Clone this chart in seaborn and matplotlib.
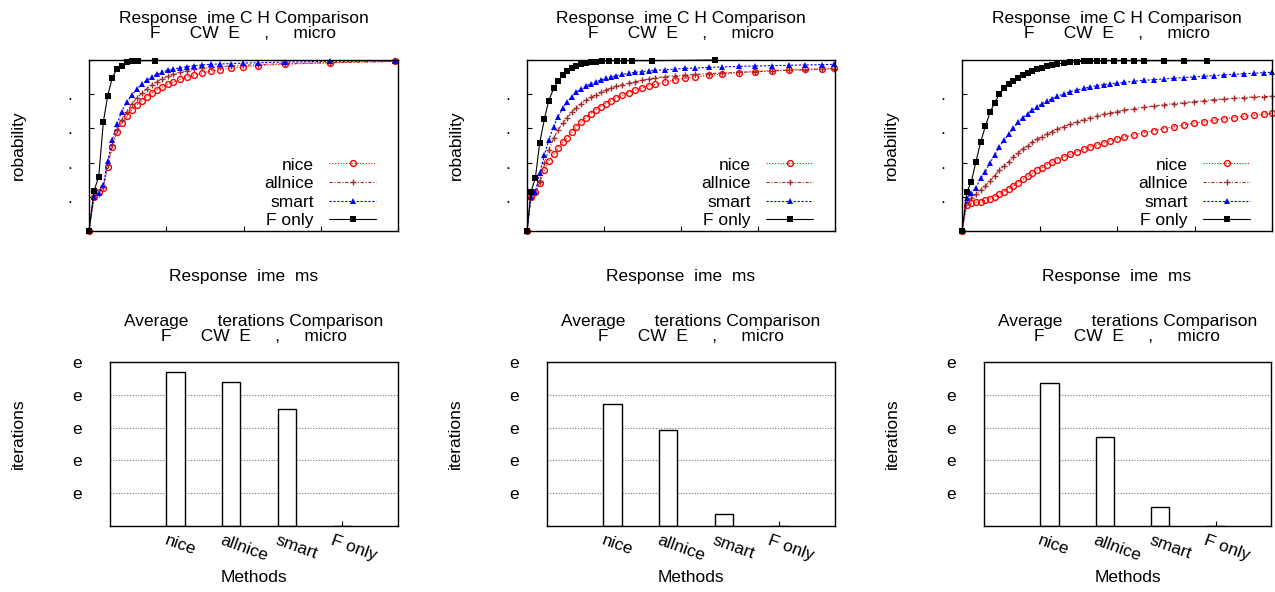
import matplotlib
matplotlib.use('Agg')
import matplotlib.pyplot as plt
import matplotlib.transforms as mtransforms
import seaborn as sns

# ---------------- data ----------------
series_names = ['nice', 'allnice', 'smart', 'F only']
categories = ['nice', 'allnice', 'smart', 'F only']

# panel 1 (response time CDF)
t1_x = [0, 3.2, 6.3, 9.3, 12.1, 15.1, 18.1, 21.1, 24.4, 27.6, 30.8, 34.1, 37.3, 40.6, 43.8,
        47.0, 50.9, 54.6, 58.9, 63.2, 68.2, 73.3, 78.9, 84.8, 91.7, 99.9, 109.6, 126.8, 155.9, 198.0]
t1_nice = [0, .201, .226, .253, .376, .493, .577, .630, .670, .705, .735, .760, .784, .805, .824,
           .840, .857, .871, .886, .900, .912, .924, .935, .944, .952, .960, .967, .975, .984, .992]
t1_allnice = [0, .201, .214, .259, .386, .503, .591, .649, .698, .741, .776, .805, .830, .854, .873,
              .889, .904, .916, .928, .938, .945, .951, .957, .961, .965, .969, .973, .979, .984, .992]
t1_smart = [0, .201, .220, .269, .409, .532, .624, .698, .752, .795, .828, .858, .881, .901, .916,
            .928, .940, .947, .955, .961, .967, .971, .975, .977, .979, .982, .984, .988, .992, .996]
t1_f_x = [0, 3.2, 6.3, 9.3, 12.1, 15.1, 17.9, 21.1, 24.4, 27.6, 31.9, 42.7]
t1_f = [0, .234, .318, .639, .791, .897, .947, .967, .986, .994, .996, .996]

# panel 2
t2_x = [0, 2.6, 5.4, 8.2, 11.3, 14.1, 17.3, 20.1, 23.2, 26.0, 29.2, 32.0, 35.3, 38.3, 41.6, 44.8,
        48.1, 51.3, 54.6, 57.8, 61.7, 66.0, 70.3, 74.7, 79.0, 83.4, 89.8, 96.3, 102.8, 109.3, 118.0,
        126.6, 137.4, 148.3, 159.1, 169.9, 180.8, 191.6, 199.2]
t2_nice = [0, .201, .226, .279, .357, .409, .450, .483, .519, .542, .577, .610, .639, .663, .686, .708,
           .727, .745, .762, .778, .793, .809, .823, .836, .848, .858, .871, .883, .893, .901, .910,
           .918, .926, .932, .938, .942, .945, .949, .951]
t2_allnice = [0, .201, .220, .288, .396, .474, .542, .591, .630, .663, .694, .721, .745, .764, .782, .797,
              .811, .825, .836, .846, .856, .864, .873, .881, .889, .895, .903, .908, .912, .916, .920,
              .924, .928, .932, .936, .940, .943, .947, .949]
t2_smart = [0, .201, .226, .337, .444, .532, .610, .669, .717, .756, .786, .811, .830, .848, .862, .873,
            .883, .893, .901, .908, .916, .922, .928, .932, .936, .940, .943, .947, .951, .953, .957,
            .959, .963, .965, .967, .969, .971, .973, .975]
t2_f_x = [0, 2.6, 5.4, 8.2, 11.3, 14.1, 17.3, 20.1, 23.2, 26.0, 29.2, 32.0, 35.3, 38.3, 41.6, 44.8,
          48.7, 53.5, 58.5, 62.8, 68.2, 81.2, 122.3]
t2_f = [0, .230, .308, .513, .655, .762, .834, .877, .912, .936, .955, .967, .977, .982, .988, .990,
        .994, .996, .996, .996, .996, .996, 1.0]

# panel 3
t3_x = [0, 3.2, 6.0, 9.0, 12.0, 15.1, 18.1, 21.1, 24.1, 27.1, 30.1, 33.1, 36.1, 39.1, 42.4, 45.4,
        48.4, 51.6, 54.8, 58.0, 61.3, 65.6, 69.9, 74.2, 78.5, 82.8, 87.1, 91.4, 95.7, 100.0, 104.3,
        110.8, 117.2, 123.7, 130.1, 136.6, 143.0, 149.5, 155.9, 162.4, 168.9, 175.3, 181.7, 188.2,
        194.6, 200.0]
t3_nice = [0, .152, .162, .168, .172, .179, .187, .201, .214, .230, .246, .263, .283, .302, .320, .337,
           .355, .370, .386, .402, .415, .433, .448, .464, .477, .491, .503, .515, .526, .538, .548,
           .561, .575, .587, .598, .610, .620, .630, .639, .647, .655, .663, .671, .676, .682, .688]
t3_allnice = [0, .172, .191, .214, .240, .265, .292, .324, .355, .382, .405, .435, .456, .480, .499, .519,
              .536, .552, .567, .581, .596, .610, .626, .639, .651, .663, .673, .682, .690, .698, .706,
              .716, .723, .731, .739, .745, .750, .756, .762, .768, .772, .776, .780, .784, .786, .788]
t3_smart = [0, .191, .220, .253, .308, .347, .400, .444, .493, .530, .565, .600, .635, .663, .686, .708,
            .727, .745, .760, .774, .788, .801, .815, .825, .834, .842, .850, .856, .862, .865, .869,
            .875, .881, .885, .889, .893, .897, .901, .905, .909, .912, .916, .920, .922, .926, .928]
t3_f_x = [0, 3.2, 6.0, 9.0, 12.0, 15.1, 18.1, 21.1, 24.1, 27.1, 30.1, 33.1, 36.1, 39.1, 42.4, 45.4,
          48.4, 51.6, 54.8, 58.0, 61.3, 65.6, 69.9, 74.2, 78.5, 82.8, 87.1, 91.4, 97.9, 104.3, 110.8,
          117.2, 130.1, 143.0, 158.1]
t3_f = [0, .230, .288, .405, .519, .614, .694, .750, .799, .834, .858, .877, .897, .912, .926, .938,
        .947, .955, .963, .971, .977, .981, .986, .990, .992, .994, .994, .996, .996, .996, .996,
        .996, .996, .996, .996]

# average iterations (bars)
bars_1 = [4.69, 4.39, 3.56, 0.0]
bars_2 = [3.71, 2.92, 0.36, 0.0]
bars_3 = [4.36, 2.70, 0.59, 0.0]

top_title = 'Response  ime C H Comparison\nF      CW  E     ,     micro'
bot_title = 'Average      terations Comparison\nF      CW  E     ,     micro'
top_xlabel = 'Response  ime  ms'
top_ylabel = 'robability'
bot_xlabel = 'Methods'
bot_ylabel = 'iterations'
top_yticklabels = ['', '.', '.', '.', '.', '']
bot_yticklabels = ['', 'e', 'e', 'e', 'e', 'e']

# ---------------- styling ----------------
sns.set_theme(style='white')
plt.rcParams['font.family'] = ['Liberation Sans', 'DejaVu Sans']
FS = 12.5

styles = {
    'nice': dict(color='#ff0000', linestyle=(0, (1, 1.5)), marker='o', markerfacecolor='none',
                 markeredgecolor='#ff0000', markersize=4.2, markeredgewidth=1.0),
    'allnice': dict(color='#a52a2a', linestyle=(0, (3, 1.5, 1, 1.5)), marker='+',
                    markeredgecolor='#a52a2a', markersize=4.5, markeredgewidth=1.0),
    'smart': dict(color='#0000ff', linestyle=(0, (2, 1.5)), marker='^', markerfacecolor='#0000ff',
                  markeredgecolor='#0000ff', markersize=5, markeredgewidth=0),
    'F only': dict(color='black', linestyle='-', marker='s', markerfacecolor='black',
                   markeredgecolor='black', markersize=4, markeredgewidth=0),
}

W, H = 1275, 592
fig = plt.figure(figsize=(W / 100, H / 100), dpi=100)


def add_ax(l, r, t, b):
    return fig.add_axes([l / W, 1 - b / H, (r - l) / W, (b - t) / H])


top_boxes = [(89, 398, 60, 231), (527, 835, 60, 231), (962, 1272, 60, 231)]
bot_boxes = [(110, 398, 362, 526), (547, 835, 362, 526), (984, 1271, 362, 526)]

top_data = [
    (t1_x, t1_nice, t1_allnice, t1_smart, t1_f_x, t1_f),
    (t2_x, t2_nice, t2_allnice, t2_smart, t2_f_x, t2_f),
    (t3_x, t3_nice, t3_allnice, t3_smart, t3_f_x, t3_f),
]
bar_data = [bars_1, bars_2, bars_3]


def style_spines(ax):
    for s in ax.spines.values():
        s.set_visible(True)
        s.set_color('black')
        s.set_linewidth(1.0)


for (l, r, t, b), (xs, yn, ya, ysm, xf, yf) in zip(top_boxes, top_data):
    ax = add_ax(l, r, t, b)
    for name, x, y in [('nice', xs, yn), ('allnice', xs, ya), ('smart', xs, ysm), ('F only', xf, yf)]:
        sns.lineplot(x=x, y=y, ax=ax, label=name, linewidth=0.8, clip_on=False, **styles[name])
    ax.set_xlim(0, 200)
    ax.set_ylim(0, 1)
    ax.set_xticks([0, 50, 100, 150, 200])
    ax.set_xticklabels([''] * 5)
    ax.set_yticks([0, .2, .4, .6, .8, 1.0])
    ax.set_yticklabels(top_yticklabels)
    ax.tick_params(axis='both', direction='in', length=3.5, width=0.8, color='black',
                   bottom=True, left=True, labelsize=FS, labelcolor='black')
    ax.tick_params(axis='y', pad=12)
    ax.set_xlabel('')
    ax.set_ylabel('')
    style_spines(ax)
    ax.set_title(top_title, fontsize=FS, pad=15.8, linespacing=1.0, color='black')
    leg = ax.legend(loc='lower right', bbox_to_anchor=(0.929, 0.015), frameon=False,
                    markerfirst=False, handlelength=2.7, handletextpad=0.9, labelspacing=0.2,
                    borderaxespad=0, borderpad=0, fontsize=FS, numpoints=1)
    for txt in leg.get_texts():
        txt.set_color('black')
    cx = (l + r) / 2
    fig.text(cx / W, 1 - 276 / H, top_xlabel, ha='center', va='center', fontsize=FS, color='black')
    fig.text((l - 71) / W, 1 - 145 / H, top_ylabel, ha='center', va='center', rotation=90,
             fontsize=FS, color='black')

for (l, r, t, b), vals in zip(bot_boxes, bar_data):
    ax = add_ax(l, r, t, b)
    sns.barplot(x=categories, y=vals, order=categories, ax=ax, color='white', edgecolor='black',
                linewidth=1.0, width=0.33, saturation=1)
    ax.set_xlim(-1.18, 4.0)
    ax.set_ylim(0, 5)
    ax.set_yticks([0, 1, 2, 3, 4, 5])
    ax.set_yticklabels(bot_yticklabels)
    ax.set_axisbelow(True)
    ax.yaxis.grid(True, linestyle=(0, (1, 1.5)), color='#777777', linewidth=0.8)
    ax.xaxis.grid(False)
    ax.set_xticks([0, 1, 2, 3])
    ax.set_xticklabels(categories, rotation=-20, ha='left', va='top', rotation_mode='anchor')
    ax.tick_params(axis='x', direction='in', length=3.5, width=0.8, color='black', bottom=True,
                   labelsize=FS, labelcolor='black', pad=5)
    ax.tick_params(axis='y', direction='in', length=0, labelsize=FS, labelcolor='black', pad=20)
    off = mtransforms.ScaledTranslation(-8 / 100, 0, fig.dpi_scale_trans)
    for lab in ax.get_xticklabels():
        lab.set_transform(lab.get_transform() + off)
    ax.set_xlabel('')
    ax.set_ylabel('')
    style_spines(ax)
    ax.set_title(bot_title, fontsize=FS, pad=14.8, linespacing=1.05, color='black')
    cx = (l + r) / 2
    fig.text(cx / W, 1 - 578 / H, bot_xlabel, ha='center', va='center', fontsize=FS, color='black')
    fig.text((l - 92) / W, 1 - 434 / H, bot_ylabel, ha='center', va='center', rotation=90,
             fontsize=FS, color='black')

fig.savefig('out.png', dpi=100, facecolor='white')
